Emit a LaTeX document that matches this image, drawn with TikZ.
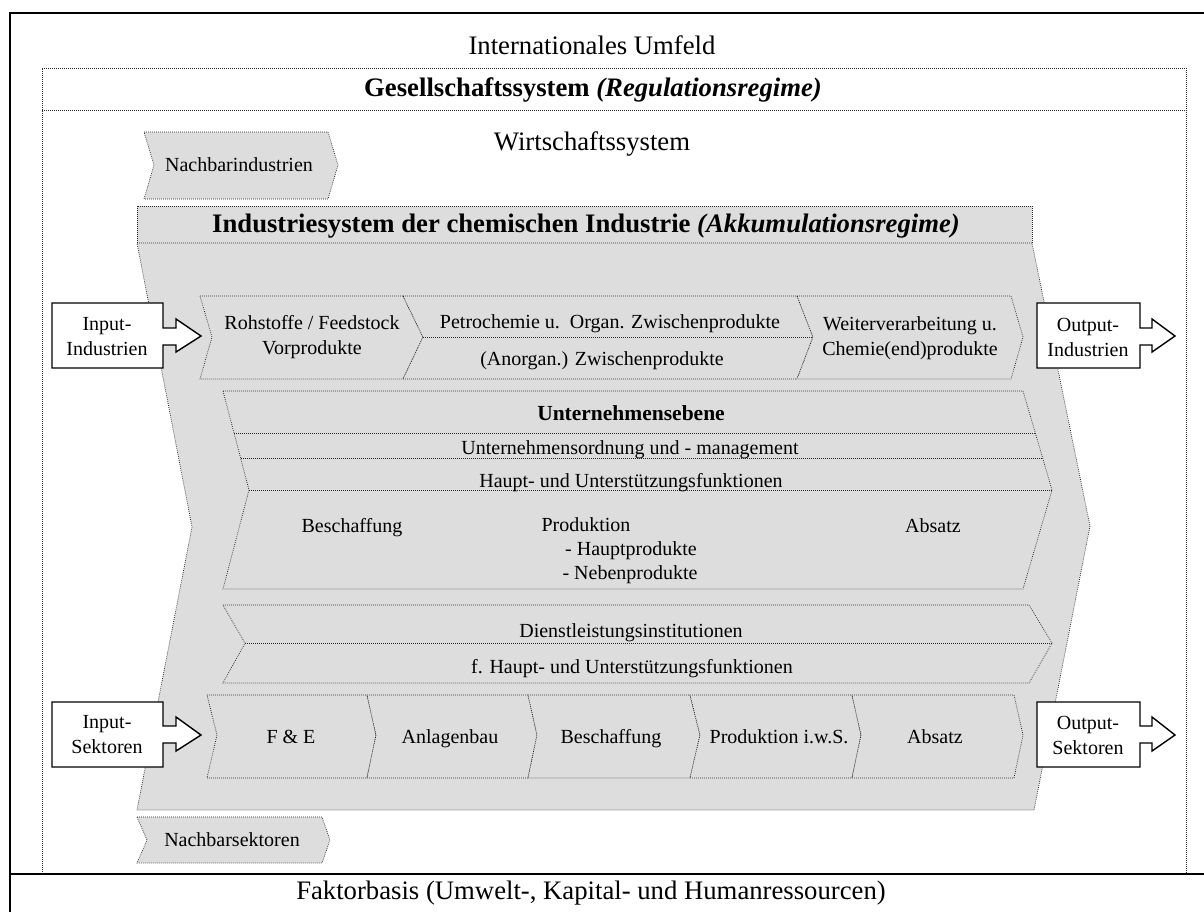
\documentclass[tikz,border=0pt]{standalone}
\usepackage{fontspec}
\setmainfont{Liberation Serif}
\definecolor{panel}{RGB}{221,221,221}
\begin{document}
\begin{tikzpicture}[x=1pt,y=-1pt,
  dotline/.style={draw=black!85, line width=0.75pt, dash pattern=on 0.75pt off 1.25pt},
  panelshape/.style={dotline, fill=panel},
  bigtext/.style={inner sep=0pt, text height=19pt, text depth=6pt, font=\fontsize{26.7}{32}\selectfont},
  smalltext/.style={inner sep=0pt, align=center, font=\fontsize{20}{25}\selectfont},
  oneline/.style={smalltext, text height=14.5pt, text depth=4.5pt},
  framestroke/.style={draw=black, line width=1.4pt},
  iobox/.style={draw=black, line width=1.4pt, fill=white, line join=miter}
]
\clip (0,0) rectangle (1204,911);
\fill[white] (0,0) rectangle (1204,911);

% outer frame and factor base
\draw[framestroke] (10,920) -- (10,13) -- (1215,13);
\draw[framestroke] (10,874) -- (1215,874);

% society system
\draw[dotline] (42,874) -- (42,68) -- (1186,68) -- (1186,874);
\draw[dotline] (42,110) -- (1186,110);

\node[bigtext] (intl) at (592,48) {Internationales Umfeld};
\node[bigtext] (gesell) at (593,90) {\bfseries Gesellschaftssystem \textit{(Regulationsregime)}};
\node[bigtext] (wirt) at (592,144) {Wirtschaftssystem};
\node[bigtext] (faktor) at (591,893) {Faktorbasis (Umwelt-, Kapital- und Humanressourcen)};

% neighbouring industries / sectors
\path[panelshape] (144,132) -- (328,132) -- (338,165) -- (328,199) -- (144,199) -- (154,165) -- cycle;
\node[oneline] (nachbarind) at (239,166) {Nachbarindustrien};
\path[panelshape] (137,817) -- (322,817) -- (330,840) -- (322,863) -- (137,863) -- (147,840) -- cycle;
\node[oneline] (nachbarsek) at (232,841) {Nachbarsektoren};

% industry system
\path[panelshape] (137,206) rectangle (1032,243);
\path[panelshape] (137,243) -- (1032,243) -- (1090,526) -- (1034,810) -- (137,810) -- (192,527) -- cycle;
\node[bigtext] (indsys) at (586,226) {\bfseries Industriesystem der chemischen Industrie \textit{(Akkumulationsregime)}};

% value chain of products
\path[panelshape] (200,296) -- (403,296) -- (423,337) -- (403,379) -- (200,379) -- (212,337) -- cycle;
\path[panelshape] (403,296) -- (797,296) -- (813,337) -- (797,379) -- (403,379) -- (423,337) -- cycle;
\draw[dotline] (423,337) -- (813,337);
\path[panelshape] (797,296) -- (1011,296) -- (1023,337) -- (1011,379) -- (797,379) -- (813,337) -- cycle;
\node[smalltext] (rohstoffe) at (312,337) {Rohstoffe / Feedstock\\Vorprodukte};
\node[oneline] (petro) at (610,323) {Petrochemie u.\ \ Organ. Zwischenprodukte};
\node[oneline] (anorg) at (602,360) {(Anorgan.) Zwischenprodukte};
\node[smalltext] (weiter) at (910,338) {Weiterverarbeitung u.\\Chemie(end)produkte};

% company level
\path[panelshape] (223,391) -- (1023,391) -- (1052,490) -- (1023,589) -- (223,589) -- (249,490) -- cycle;
\draw[dotline] (234,433) -- (1035.3,433);
\draw[dotline] (240.6,458) -- (1042.6,458);
\draw[dotline] (249,490) -- (1052,490);
\node[oneline, font=\fontsize{21.5}{26}\selectfont\bfseries] (untebene) at (631,415) {Unternehmensebene};
\node[oneline] (untordnung) at (630,449) {Unternehmensordnung und - management};
\node[oneline] (hauptfkt) at (631,482) {Haupt- und Unterstützungsfunktionen};
\node[oneline] (ubeschaff) at (352,527) {Beschaffung};
\node[oneline] (uprod) at (586,526) {Produktion};
\node[oneline] (uhaupt) at (631,550) {- Hauptprodukte};
\node[oneline] (uneben) at (630,574) {- Nebenprodukte};
\node[oneline] (uabsatz) at (933,527) {Absatz};

% service institutions
\path[panelshape] (223,605) -- (1029,605) -- (1052,643) -- (1029,683) -- (223,683) -- (245,643) -- cycle;
\draw[dotline] (245,643) -- (1052,643);
\node[oneline] (dienst) at (631,632) {Dienstleistungsinstitutionen};
\node[oneline] (fhaupt) at (632,668) {f. Haupt- und Unterstützungsfunktionen};

% value chain of sectors
\path[panelshape] (207,695) -- (367,695) -- (376,735) -- (367,778) -- (207,778) -- (217,735) -- cycle;
\path[panelshape] (367,695) -- (528,695) -- (537,735) -- (528,778) -- (367,778) -- (376,735) -- cycle;
\path[panelshape] (528,695) -- (690,695) -- (700,735) -- (690,778) -- (528,778) -- (537,735) -- cycle;
\path[panelshape] (690,695) -- (852,695) -- (861,735) -- (852,778) -- (690,778) -- (700,735) -- cycle;
\path[panelshape] (852,695) -- (1014,695) -- (1023,735) -- (1014,778) -- (852,778) -- (861,735) -- cycle;
\node[oneline] (fue) at (291,738) {F \& E};
\node[oneline] (anlagen) at (450,738) {Anlagenbau};
\node[oneline] (sbeschaff) at (611,738) {Beschaffung};
\node[oneline] (sprod) at (779,738) {Produktion i.w.S.};
\node[oneline] (sabsatz) at (935,738) {Absatz};

% input and output boxes with block arrows
\path[iobox] (52,303) -- (163,303) -- (163,328) -- (176,328) -- (176,319) -- (201,336) -- (176,352) -- (176,345) -- (163,345) -- (163,368) -- (52,368) -- cycle;
\node[smalltext] (inind) at (107,337) {Input-\\Industrien};
\path[iobox] (1037,303) -- (1140,303) -- (1140,328) -- (1152,328) -- (1152,319) -- (1175,336) -- (1152,352) -- (1152,345) -- (1140,345) -- (1140,368) -- (1037,368) -- cycle;
\node[smalltext] (outind) at (1088,337) {Output-\\Industrien};
\path[iobox] (52,702) -- (163,702) -- (163,726) -- (176,726) -- (176,717) -- (201,735) -- (176,751) -- (176,743) -- (163,743) -- (163,767) -- (52,767) -- cycle;
\node[smalltext] (insek) at (107,735) {Input-\\Sektoren};
\path[iobox] (1037,702) -- (1140,702) -- (1140,726) -- (1152,726) -- (1152,717) -- (1175,735) -- (1152,751) -- (1152,743) -- (1140,743) -- (1140,767) -- (1037,767) -- cycle;
\node[smalltext] (outsek) at (1088,735) {Output-\\Sektoren};
\end{tikzpicture}
\end{document}
